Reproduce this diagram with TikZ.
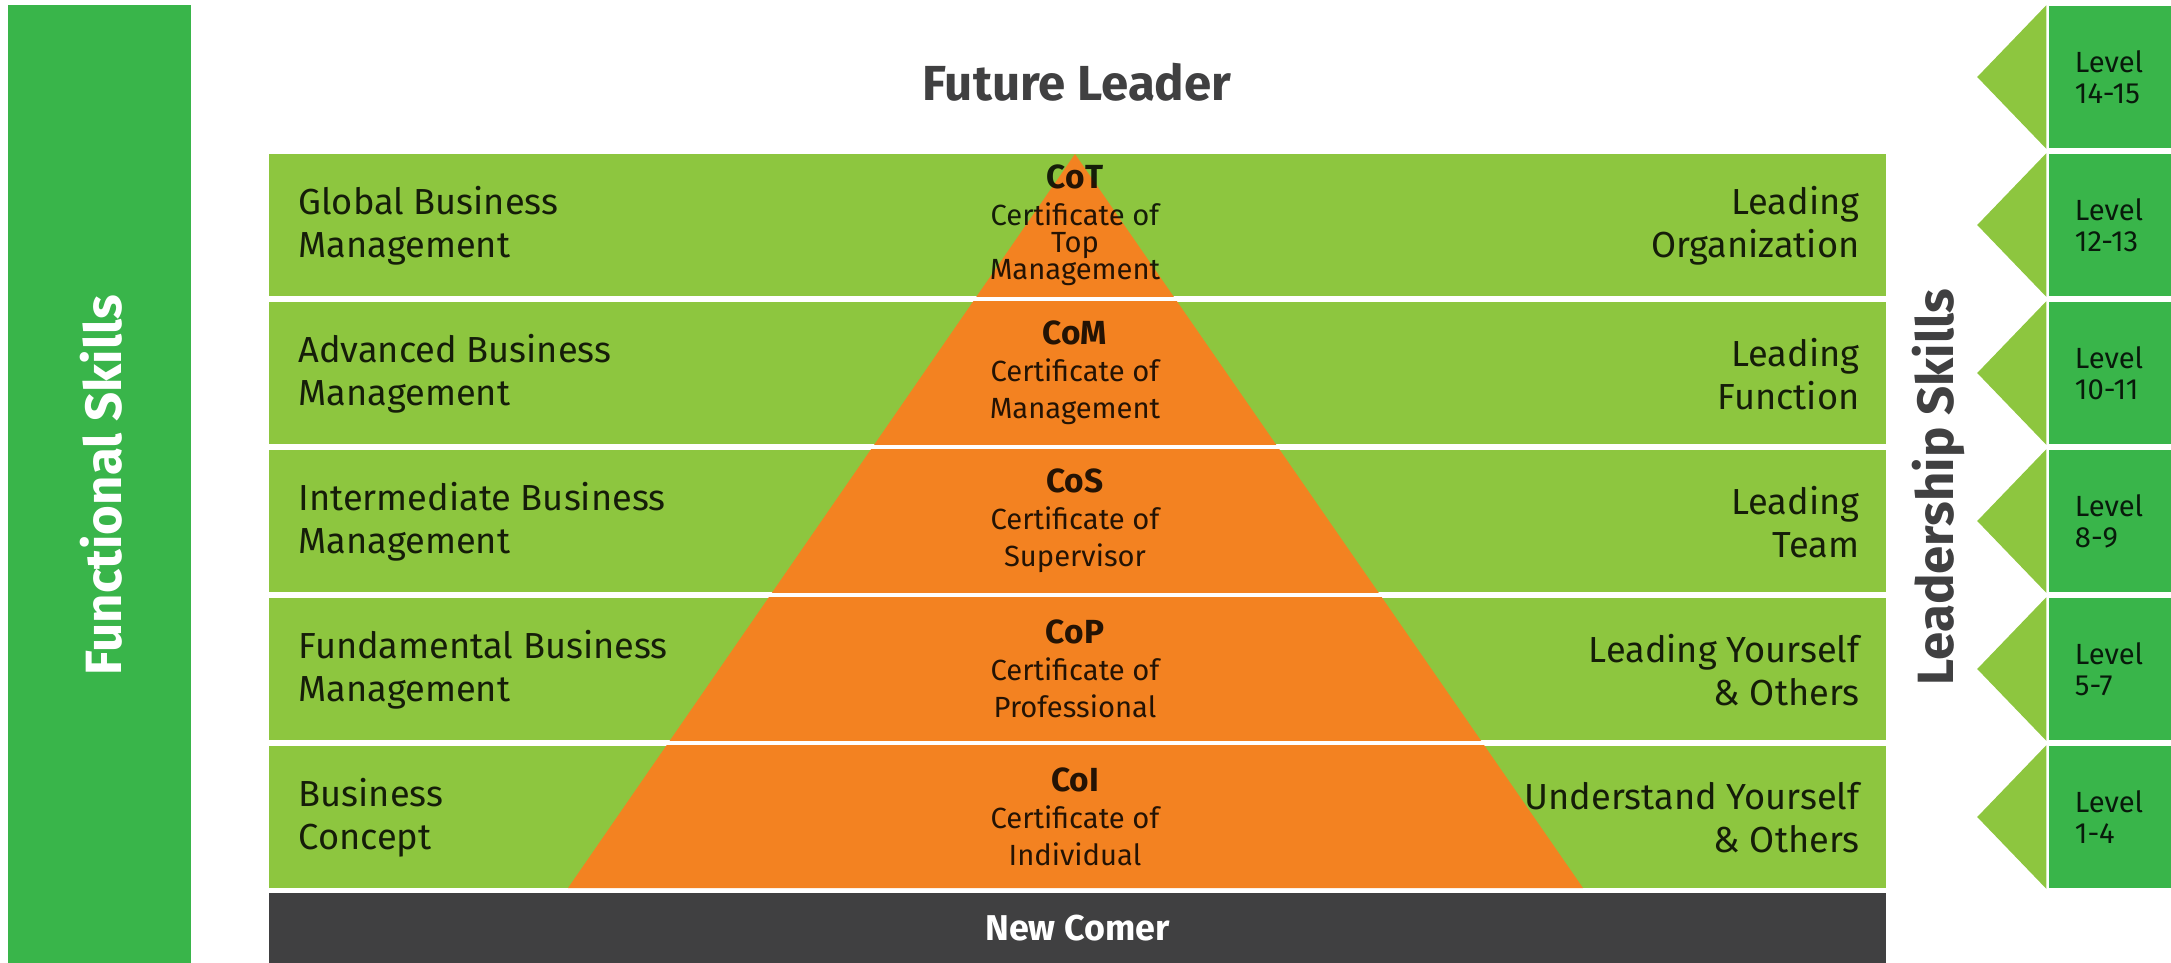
\documentclass[tikz,border=0pt]{standalone}
\usepackage{fontspec}
\setmainfont{Fira Sans}
\usetikzlibrary{positioning}

\definecolor{dgreen}{HTML}{39B54A}
\definecolor{lgreen}{HTML}{8DC63F}
\definecolor{orng}{HTML}{F38221}
\definecolor{dgray}{HTML}{404041}

\tikzset{
  band/.style={fill=lgreen, inner sep=0pt, minimum width=16.17cm, minimum height=1.42cm},
  lvltab/.style={fill=dgreen, inner sep=0pt, minimum width=1.22cm, minimum height=1.42cm},
  headtxt/.style={inner sep=0pt, text=dgray, font=\bfseries\fontsize{14}{16}\selectfont},
  sidetxt/.style={inner sep=0pt, rotate=90, font=\bfseries\fontsize{14.5}{16}\selectfont},
  rowtxt/.style={inner sep=0pt, text=black, text opacity=0.85, font=\fontsize{10.3}{12.2}\selectfont},
  cert/.style={inner sep=0pt, align=center, text=black, text opacity=0.85, font=\fontsize{8.3}{10.5}\selectfont},
  lvl/.style={inner sep=0pt, align=left, anchor=west, text=black, text opacity=0.85, font=\fontsize{8.3}{8.8}\selectfont},
}

\begin{document}
\begin{tikzpicture}[x=0.01cm, y=-0.01cm]
  \useasboundingbox (0,0) rectangle (2171,963);

  % Barra izquierda
  \node[fill=dgreen, inner sep=0pt, minimum width=1.83cm, minimum height=9.58cm] (fs) at (99.5,484) {};
  \node[sidetxt, text=white] (fst) at (101,485) {Functional Skills};

  \node[headtxt] (fl) at (1077,82) {Future Leader};
  \node[sidetxt, text=dgray] (ls) at (1938,487) {Leadership Skills};

  % Filas
  \node[band] (r1) at (1077.5,225) {};
  \node[band] (r2) at (1077.5,373) {};
  \node[band] (r3) at (1077.5,521) {};
  \node[band] (r4) at (1077.5,669) {};
  \node[band] (r5) at (1077.5,817) {};
  \node[fill=dgray, inner sep=0pt, minimum width=16.17cm, minimum height=0.70cm] (nc) at (1077.5,928) {};
  \node[headtxt, text=white, font=\bfseries\fontsize{10.2}{12}\selectfont] (nct) at (nc) {New Comer};

  % Piramide
  \coordinate (apex) at (1075,154);
  \coordinate (bl) at (568,888);
  \coordinate (br) at (1583,888);
  \fill[orng] (apex) -- (bl) -- (br) -- cycle;

  \fill[white] (r1.south west) rectangle (r2.north east);
  \fill[white] (r2.south west) rectangle (r3.north east);
  \fill[white] (r3.south west) rectangle (r4.north east);
  \fill[white] (r4.south west) rectangle (r5.north east);

  % Textos
  \node[rowtxt, anchor=west, align=left] (a1) at ([xshift=0.3cm, yshift=-0.01cm]r1.west) {Global Business\\Management};
  \node[rowtxt, anchor=west, align=left] (a2) at ([xshift=0.3cm, yshift=-0.01cm]r2.west) {Advanced Business\\Management};
  \node[rowtxt, anchor=west, align=left] (a3) at ([xshift=0.3cm, yshift=-0.01cm]r3.west) {Intermediate Business\\Management};
  \node[rowtxt, anchor=west, align=left] (a4) at ([xshift=0.3cm, yshift=-0.01cm]r4.west) {Fundamental Business\\Management};
  \node[rowtxt, anchor=west, align=left] (a5) at ([xshift=0.3cm, yshift=-0.01cm]r5.west) {Business\\Concept};

  \node[rowtxt, anchor=east, align=right] (b1) at ([xshift=-0.27cm, yshift=-0.01cm]r1.east) {Leading\\Organization};
  \node[rowtxt, anchor=east, align=right] (b2) at ([xshift=-0.27cm, yshift=-0.01cm]r2.east) {Leading\\Function};
  \node[rowtxt, anchor=east, align=right] (b3) at ([xshift=-0.27cm, yshift=-0.01cm]r3.east) {Leading\\Team};
  \node[rowtxt, anchor=east, align=right] (b4) at ([xshift=-0.27cm, yshift=-0.01cm]r4.east) {Leading Yourself\\\& Others};
  \node[rowtxt, anchor=east, align=right] (b5) at ([xshift=-0.27cm, yshift=-0.01cm]r5.east) {Understand Yourself\\\& Others};

  \node[cert] (c1) at (apex |- r1) {{\bfseries\fontsize{9.5}{10.5}\selectfont CoT}\\Certificate of\\[-2.8pt]Top\\[-2.8pt]Management};
  \node[cert] (c2) at (apex |- r2) {{\bfseries\fontsize{9.5}{10.5}\selectfont CoM}\\Certificate of\\Management};
  \node[cert] (c3) at (apex |- r3) {{\bfseries\fontsize{9.5}{10.5}\selectfont CoS}\\Certificate of\\Supervisor};
  \node[cert] (c4) at (apex |- r4) {{\bfseries\fontsize{9.5}{10.5}\selectfont CoP}\\Certificate of\\Professional};
  \node[cert] (c5) at (apex |- r5) {{\bfseries\fontsize{9.5}{10.5}\selectfont CoI}\\Certificate of\\Individual};

  % Niveles
  \node[lvltab] (t0) at (2110,77) {};
  \node[lvltab] (t1) at (2110,225) {};
  \node[lvltab] (t2) at (2110,373) {};
  \node[lvltab] (t3) at (2110,521) {};
  \node[lvltab] (t4) at (2110,669) {};
  \node[lvltab] (t5) at (2110,817) {};

  \fill[lgreen] ([xshift=-0.02cm]t0.north west) -- ([xshift=-0.02cm]t0.south west) -- ([xshift=-0.71cm]t0.west) -- cycle;
  \fill[lgreen] ([xshift=-0.02cm]t1.north west) -- ([xshift=-0.02cm]t1.south west) -- ([xshift=-0.71cm]t1.west) -- cycle;
  \fill[lgreen] ([xshift=-0.02cm]t2.north west) -- ([xshift=-0.02cm]t2.south west) -- ([xshift=-0.71cm]t2.west) -- cycle;
  \fill[lgreen] ([xshift=-0.02cm]t3.north west) -- ([xshift=-0.02cm]t3.south west) -- ([xshift=-0.71cm]t3.west) -- cycle;
  \fill[lgreen] ([xshift=-0.02cm]t4.north west) -- ([xshift=-0.02cm]t4.south west) -- ([xshift=-0.71cm]t4.west) -- cycle;
  \fill[lgreen] ([xshift=-0.02cm]t5.north west) -- ([xshift=-0.02cm]t5.south west) -- ([xshift=-0.71cm]t5.west) -- cycle;

  \node[lvl] (v0) at ([xshift=0.26cm]t0.west) {Level\\14-15};
  \node[lvl] (v1) at ([xshift=0.26cm]t1.west) {Level\\12-13};
  \node[lvl] (v2) at ([xshift=0.26cm]t2.west) {Level\\10-11};
  \node[lvl] (v3) at ([xshift=0.26cm]t3.west) {Level\\8-9};
  \node[lvl] (v4) at ([xshift=0.26cm]t4.west) {Level\\5-7};
  \node[lvl] (v5) at ([xshift=0.26cm]t5.west) {Level\\1-4};
\end{tikzpicture}
\end{document}
